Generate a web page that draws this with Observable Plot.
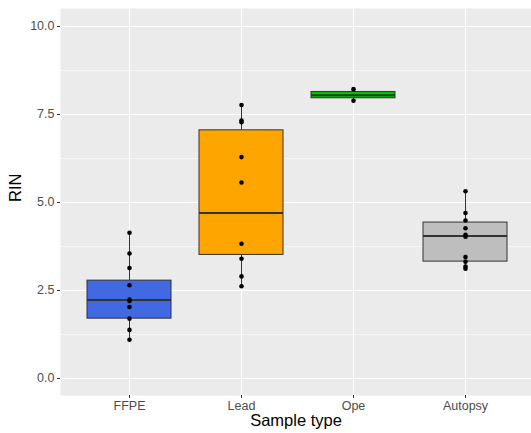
<!DOCTYPE html>
<html>
<head>
<meta charset="utf-8">
<script src="https://cdn.jsdelivr.net/npm/d3@7"></script>
<script src="https://cdn.jsdelivr.net/npm/@observablehq/plot@0.6"></script>
<style>
  html, body { margin: 0; padding: 0; background: white; }
</style>
</head>
<body>
<div id="chart"></div>
<script>
// Categories and fills
const categories = ["FFPE", "Lead", "Ope", "Autopsy"];
const fills = ["#4169E1", "#FFA500", "#00C000", "#BEBEBE"];

// Box statistics
const q1 = [1.70, 3.51, 7.96, 3.32];
const median = [2.23, 4.70, 8.05, 4.05];
const q3 = [2.78, 7.05, 8.14, 4.43];
const whiskerLow = [1.10, 2.62, 7.89, 3.12];
const whiskerHigh = [4.14, 7.77, 8.22, 5.32];

// Individual points
const ffpePoints = [1.10, 1.38, 1.70, 2.03, 2.20, 2.24, 2.65, 3.14, 3.55, 4.14];
const leadPoints = [2.62, 2.90, 3.40, 3.83, 5.57, 6.29, 7.28, 7.33, 7.77];
const opePoints = [7.89, 8.22];
const autopsyPoints = [3.12, 3.18, 3.32, 3.45, 4.03, 4.08, 4.27, 4.49, 4.70, 5.32];

// Axis ticks
const yMajorTicks = [0, 2.5, 5, 7.5, 10];
const yMinorTicks = [1.25, 3.75, 6.25, 8.75];

const stats = categories.map((c, i) => ({
  type: c, fill: fills[i], q1: q1[i], median: median[i], q3: q3[i],
  lo: whiskerLow[i], hi: whiskerHigh[i]
}));
const pointSets = [ffpePoints, leadPoints, opePoints, autopsyPoints];
const points = pointSets.flatMap((arr, i) => arr.map(v => ({type: categories[i], value: v})));

const chart = Plot.plot({
  width: 531,
  height: 433,
  marginTop: 8,
  marginBottom: 38,
  marginLeft: 60,
  marginRight: 0,
  style: {fontFamily: "'Liberation Sans', Arial, sans-serif", background: "white"},
  x: {type: "band", domain: categories, range: [60, 534], paddingInner: 0.25, paddingOuter: 0.225, label: null},
  y: {domain: [-0.483, 10.511], label: null},
  color: {type: "identity"},
  marks: [
    Plot.frame({fill: "#EBEBEB", stroke: "none"}),
    Plot.gridY(yMinorTicks, {stroke: "white", strokeOpacity: 1, strokeWidth: 0.55}),
    Plot.gridY(yMajorTicks, {stroke: "white", strokeOpacity: 1, strokeWidth: 1.1}),
    Plot.gridX(categories, {stroke: "white", strokeOpacity: 1, strokeWidth: 1.1}),
    Plot.axisY(yMajorTicks, {tickFormat: d3.format(".1f"), tickSize: 3, tickPadding: 3, fontSize: 12.5, fill: "#4D4D4D", stroke: "#333333", label: null}),
    Plot.axisX({tickSize: 3, tickPadding: 3, fontSize: 12.5, fill: "#4D4D4D", stroke: "#333333", label: null}),
    Plot.ruleX(stats, {x: "type", y1: "lo", y2: "q1", stroke: "#333333", strokeWidth: 1}),
    Plot.ruleX(stats, {x: "type", y1: "q3", y2: "hi", stroke: "#333333", strokeWidth: 1}),
    Plot.barY(stats, {x: "type", y1: "q1", y2: "q3", fill: "fill", stroke: "#333333", strokeWidth: 1}),
    Plot.tickY(stats, {x: "type", y: "median", stroke: "#333333", strokeWidth: 2}),
    Plot.dot(points, {x: "type", y: "value", r: 2.3, fill: "black", stroke: "none"}),
    Plot.text(["RIN"], {text: d => d, frameAnchor: "left", dx: -45, rotate: -90, fontSize: 16.5, fill: "black"}),
    Plot.text(["Sample type"], {text: d => d, frameAnchor: "bottom", dy: 30, fontSize: 16.5, fill: "black"})
  ]
});
document.getElementById("chart").appendChild(chart);
</script>
</body>
</html>
